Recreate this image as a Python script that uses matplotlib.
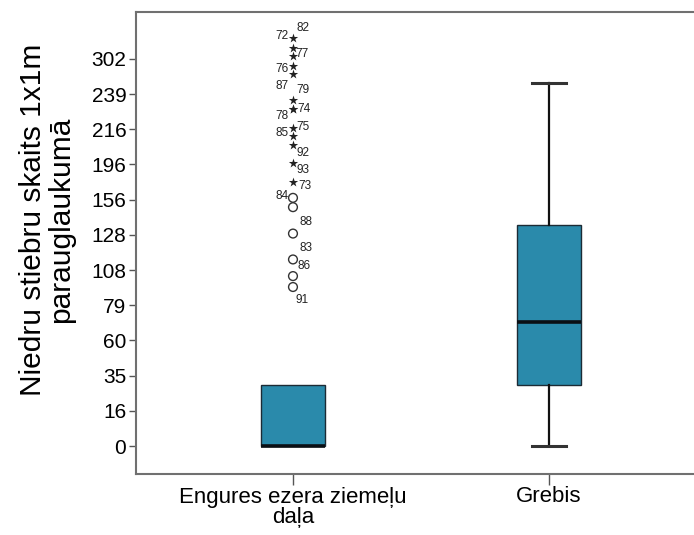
import matplotlib
matplotlib.use("Agg")
import matplotlib.pyplot as plt
from matplotlib.ticker import NullLocator
import numpy as np

# axis tick values (the source axis spaces them evenly)
tick_values = [0, 16, 35, 60, 79, 108, 128, 156, 196, 216, 239, 302]

groups = ["Engures ezera ziemeļu\ndaļa", "Grebis"]

# box statistics per group
whis_low = [0, 0]
q1 = [0, 30]
medians = [0, 70]
q3 = [30, 136]
whis_high = [30, 258]

# outliers of the first group
extreme_vals = [339, 321, 307, 290, 275, 235, 229, 229, 217, 212, 207, 197, 176]
extreme_ids = ["82", "72", "77", "76", "87", "79", "74", "78", "75", "85", "92", "93", "73"]
outlier_vals = [158, 150, 129, 114, 103, 94]
outlier_ids = ["84", "88", "83", "86", "", "91"]

# label offsets in pixels (dx, dy up)
extreme_offsets = [(10, 10), (-11, 12), (9, 2), (-11, -3), (-11, -12), (10, 10),
                   (11, 0), (-11, -7), (10, 1), (-11, 3), (10, -8), (10, -7), (12, -4)]
outlier_offsets = [(-11, 2), (13, -15), (13, -14), (11, -7), (0, 0), (9, -13)]

# evenly spaced axis: map values to tick index
knot_vals = np.array([-160] + tick_values + [932], dtype=float)
knot_idx = np.array([-10] + list(range(len(tick_values))) + [21], dtype=float)


def forward(v):
    return np.interp(v, knot_vals, knot_idx)


def inverse(i):
    return np.interp(i, knot_idx, knot_vals)


plt.rcParams["font.family"] = ["Liberation Sans", "DejaVu Sans"]

fig = plt.figure(figsize=(6.94, 5.35), dpi=100)
ax = fig.add_axes([136 / 694, 1 - 474 / 535, 1 - 136 / 694, (474 - 12) / 535])
ax.set_yscale("function", functions=(forward, inverse))

box_color = "#2a8aab"
positions = [1, 2]
stats = []
for i in range(len(groups)):
    stats.append(dict(med=medians[i], q1=q1[i], q3=q3[i],
                      whislo=whis_low[i], whishi=whis_high[i], fliers=[]))

parts = ax.bxp(stats, positions=positions, widths=0.25, showfliers=False,
               patch_artist=True, capwidths=0.13,
               boxprops=dict(facecolor=box_color, edgecolor="#1c2b35", linewidth=1),
               medianprops=dict(color="#0a0f14", linewidth=2.6),
               whiskerprops=dict(color="#111111", linewidth=1.6),
               capprops=dict(color="#333333", linewidth=2.2))

# whiskers of zero length are not drawn in the source
for i in range(len(groups)):
    if whis_high[i] == q3[i]:
        parts["caps"][2 * i + 1].set_visible(False)
    if whis_low[i] == q1[i]:
        parts["caps"][2 * i].set_visible(False)

x0 = positions[0]
ax.scatter([x0] * len(extreme_vals), extreme_vals, marker="*", s=50,
           color="#222222", linewidths=0, zorder=4)
ax.scatter([x0] * len(outlier_vals), outlier_vals, marker="o", s=40,
           facecolors="none", edgecolors="#333333", linewidths=1, zorder=4)

for v, lab, (dx, dy) in zip(extreme_vals + outlier_vals,
                            extreme_ids + outlier_ids,
                            extreme_offsets + outlier_offsets):
    if lab:
        ax.annotate(lab, (x0, v), xytext=(dx, dy), textcoords="offset pixels",
                    ha="center", va="center", fontsize=8.5, color="#222222")

ax.set_xlim(0.387, 2.566)
ax.set_ylim(inverse(-0.795), inverse(12.33))

ax.set_yticks(tick_values)
ax.set_yticklabels([str(t) for t in tick_values])
ax.yaxis.set_minor_locator(NullLocator())
ax.set_xticks(positions)
ax.set_xticklabels(groups, multialignment="center", linespacing=0.95)

ax.tick_params(axis="y", direction="out", length=5, width=1, color="#555555",
               labelsize=15, pad=2)
ax.tick_params(axis="x", direction="out", length=8, width=1, color="#555555",
               labelsize=16, pad=1)

for side in ["left", "top", "bottom"]:
    ax.spines[side].set_color("#707070")
    ax.spines[side].set_linewidth(1.5)
ax.spines["right"].set_visible(False)

fig.text(47 / 694, 1 - 220 / 535, "Niedru stiebru skaits 1x1m\nparauglaukumā",
         rotation=90, ha="center", va="center", multialignment="center",
         fontsize=21.5, linespacing=1.0)

fig.savefig("out.png", dpi=100)
